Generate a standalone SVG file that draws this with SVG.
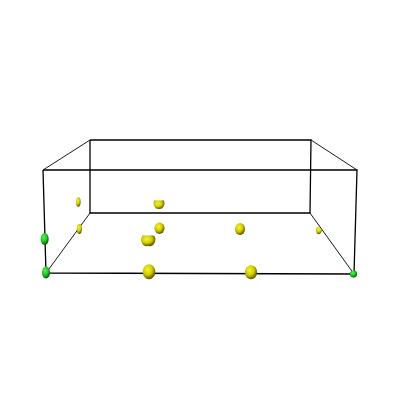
<svg xmlns="http://www.w3.org/2000/svg" width="400" height="400" viewBox="0 0 400 400">
<defs>
<radialGradient id="gy" cx="0.4" cy="0.35" r="0.65">
<stop offset="0" stop-color="#f4f43a"/>
<stop offset="0.55" stop-color="#cfcc00"/>
<stop offset="1" stop-color="#5e5200"/>
</radialGradient>
<radialGradient id="gg" cx="0.4" cy="0.35" r="0.65">
<stop offset="0" stop-color="#5af05a"/>
<stop offset="0.55" stop-color="#1ec81e"/>
<stop offset="1" stop-color="#0a500a"/>
</radialGradient>
<style>
.e{stroke:#000;stroke-width:1.3;fill:none}
.d{stroke:#000;stroke-width:0.9;fill:none}
.y{fill:url(#gy)}
.g{fill:url(#gg)}
</style>
</defs>
<rect width="400" height="400" fill="#fff"/>
<g id="box">
<polyline class="e" points="90,140 311,140 310,213 90,213 90,140"/>
<polyline class="e" points="43,170 357,170 354,274 46,273 43,170"/>
<line class="d" x1="90" y1="140" x2="43" y2="170"/>
<line class="d" x1="311" y1="140" x2="357" y2="170"/>
<line class="d" x1="90" y1="213" x2="46" y2="273"/>
<line class="d" x1="310" y1="213" x2="354" y2="274"/>
</g>
<g id="points">
<ellipse class="g" cx="44.7" cy="239" rx="4" ry="6"/>
<ellipse class="g" cx="46" cy="272.5" rx="4" ry="6"/>
<ellipse class="g" cx="353.5" cy="274" rx="3.6" ry="3.4"/>
<ellipse class="y" cx="78.3" cy="202" rx="2.3" ry="4.8"/>
<ellipse class="y" cx="79.3" cy="229" rx="2.5" ry="5"/>
<path class="y" d="M154,200.5 L164,200.5 A5,6 0 0 1 159,209 A5,6 0 0 1 154,200.5 Z"/>
<ellipse class="y" cx="159.5" cy="228.3" rx="5" ry="5.7"/>
<path class="y" d="M142.5,235.5 L154,235.5 A6,6.5 0 0 1 148.3,246 A6,6.5 0 0 1 142.5,235.5 Z"/>
<ellipse class="y" cx="149" cy="271.7" rx="6.3" ry="7.5"/>
<ellipse class="y" cx="240" cy="229" rx="5" ry="6"/>
<path class="y" d="M318.5,226.5 L322.5,230.5 L320,234 A3,3.5 0 0 1 318.5,226.5 Z"/>
<ellipse class="y" cx="251" cy="272.3" rx="6" ry="7"/>
</g>
</svg>
